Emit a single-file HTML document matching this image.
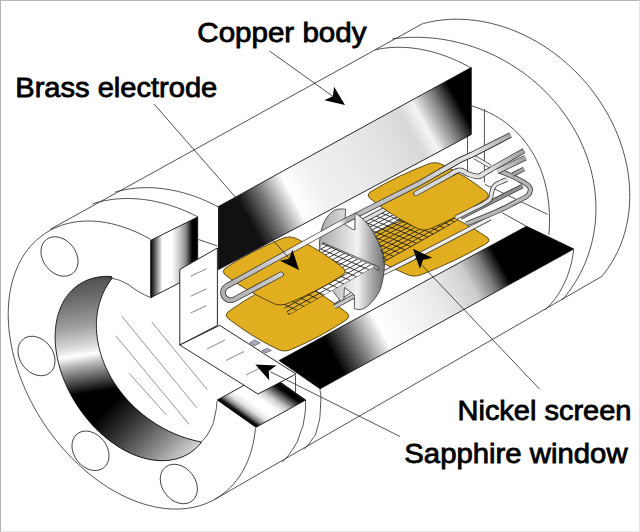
<!DOCTYPE html>
<html><head><meta charset="utf-8"><title>Cell diagram</title>
<style>html,body{margin:0;padding:0;background:#fff}body{width:640px;height:532px;overflow:hidden;position:relative}
#frame{position:absolute;left:0;top:0;width:638px;height:530px;border-top:1px solid #b4b4b4;border-left:1px solid #b4b4b4;border-right:1px solid #e6e6e6;border-bottom:1px solid #e6e6e6}
svg{position:absolute;left:0;top:0;display:block}</style></head><body>
<svg width="640" height="532" viewBox="0 0 640 532"><defs>
<linearGradient id="gUp" gradientUnits="userSpaceOnUse" x1="218.5" y1="238" x2="471.25" y2="99">
 <stop offset="0" stop-color="#111"/><stop offset="0.125" stop-color="#111"/><stop offset="0.205" stop-color="#777"/><stop offset="0.295" stop-color="#fff"/><stop offset="0.4" stop-color="#f0f0f0"/>
 <stop offset="0.55" stop-color="#e9e9e9"/><stop offset="0.68" stop-color="#e0e0e0"/><stop offset="0.76" stop-color="#d8d8d8"/><stop offset="0.815" stop-color="#f4f4f4"/><stop offset="0.89" stop-color="#808080"/><stop offset="0.955" stop-color="#000"/><stop offset="1" stop-color="#000"/>
</linearGradient>
<linearGradient id="gLow" gradientUnits="userSpaceOnUse" x1="279.2" y1="360.5" x2="553.1" y2="211.4">
 <stop offset="0" stop-color="#000"/><stop offset="0.16" stop-color="#000"/><stop offset="0.245" stop-color="#777"/><stop offset="0.335" stop-color="#fff"/>
 <stop offset="0.42" stop-color="#f6f6f6"/><stop offset="0.52" stop-color="#ececec"/><stop offset="0.6" stop-color="#dedede"/><stop offset="0.657" stop-color="#cccccc"/><stop offset="0.715" stop-color="#808080"/><stop offset="0.772" stop-color="#000"/><stop offset="1" stop-color="#000"/>
</linearGradient>
<linearGradient id="gFl" gradientUnits="userSpaceOnUse" x1="150.7" y1="0" x2="197.7" y2="0">
 <stop offset="0" stop-color="#000"/><stop offset="0.05" stop-color="#333"/><stop offset="0.25" stop-color="#fff"/><stop offset="0.45" stop-color="#fff"/><stop offset="0.62" stop-color="#c8c8c8"/><stop offset="0.75" stop-color="#888"/><stop offset="0.88" stop-color="#000"/><stop offset="1" stop-color="#000"/>
</linearGradient>
<linearGradient id="gFl2" gradientUnits="userSpaceOnUse" x1="217.3" y1="400" x2="246.7" y2="358.4">
 <stop offset="0" stop-color="#000"/><stop offset="0.05" stop-color="#111"/><stop offset="0.12" stop-color="#888"/><stop offset="0.22" stop-color="#e0e0e0"/><stop offset="0.35" stop-color="#fff"/><stop offset="0.5" stop-color="#fff"/><stop offset="0.65" stop-color="#ccc"/><stop offset="0.78" stop-color="#666"/><stop offset="0.9" stop-color="#000"/><stop offset="1" stop-color="#000"/>
</linearGradient>
<linearGradient id="gBore" gradientUnits="userSpaceOnUse" x1="90" y1="270" x2="120" y2="460">
 <stop offset="0" stop-color="#2a2a2a"/><stop offset="0.06" stop-color="#555"/><stop offset="0.15" stop-color="#707070"/><stop offset="0.28" stop-color="#9e9e9e"/><stop offset="0.39" stop-color="#ddd"/><stop offset="0.432" stop-color="#fff"/><stop offset="0.49" stop-color="#aaa"/><stop offset="0.63" stop-color="#000"/><stop offset="1" stop-color="#000"/>
</linearGradient>
<linearGradient id="gBore2" gradientUnits="userSpaceOnUse" x1="100" y1="416.2" x2="167.2" y2="483.4">
 <stop offset="0" stop-color="#000"/><stop offset="0.36" stop-color="#444"/><stop offset="0.73" stop-color="#999"/><stop offset="0.92" stop-color="#ccc"/><stop offset="1" stop-color="#ddd"/>
</linearGradient>
<clipPath id="cBore2"><path d="M30,402.2 L220,372.2 L260,520 L30,520Z"/></clipPath>
</defs>
<path d="M150.83,239.52 L145.95,236.81 L141.04,234.31 L136.13,232.01 L131.20,229.92 L126.28,228.04 L121.36,226.39 L116.47,224.95 L111.60,223.73 L106.76,222.73 L101.96,221.96 L97.20,221.42 L92.51,221.10 L87.87,221.01 L83.31,221.15 L78.82,221.52 L74.42,222.11 L70.10,222.93 L65.89,223.97 L61.78,225.24 L57.78,226.72 L53.90,228.43 L50.14,230.35 L46.52,232.49 L43.02,234.83 L39.67,237.38 L36.47,240.13 L33.41,243.08 L30.51,246.22 L27.78,249.55 L25.20,253.06 L22.80,256.75 L20.57,260.61 L18.51,264.64 L16.64,268.82 L14.94,273.16 L13.43,277.64 L12.11,282.26 L10.98,287.01 L10.04,291.88 L9.30,296.87 L8.75,301.97 L8.39,307.17 L8.23,312.45 L8.26,317.82 L8.49,323.27 L8.91,328.78 L9.53,334.35 L10.35,339.97 L11.35,345.63 L12.55,351.32 L13.94,357.03 L15.51,362.75 L17.26,368.47 L19.20,374.19 L21.32,379.90 L23.61,385.58 L26.07,391.23 L28.70,396.84 L31.50,402.40 L34.45,407.90 L37.56,413.33 L40.82,418.69 L44.22,423.96 L47.76,429.14 L51.43,434.22 L55.23,439.18 L59.15,444.03 L63.19,448.76 L67.34,453.35 L71.59,457.80 L75.93,462.11 L80.36,466.26 L84.88,470.26 L89.47,474.08 L94.12,477.74 L98.84,481.22 L103.61,484.51 L108.43,487.61 L113.28,490.52 L118.16,493.24 L123.06,495.75 L127.98,498.05 L132.91,500.14 L137.83,502.02 L142.74,503.69 L147.64,505.13 L152.51,506.35 L157.35,507.35 L162.15,508.12 L166.91,508.67 L171.61,508.99 L176.24,509.09 L180.81,508.95 L185.30,508.59 L189.70,508.00 L194.02,507.19 L198.23,506.15 L202.34,504.89 L206.34,503.41 L210.23,501.70 L213.99,499.79 L217.62,497.66 L221.11,495.32 L224.47,492.77 L227.67,490.02 L230.73,487.08 L233.63,483.94 L236.37,480.61 L238.95,477.10 L241.36,473.42 L243.59,469.56 L245.65,465.54 L247.53,461.36 L249.23,457.03 L250.74,452.55 L252.06,447.93 L253.20,443.18 L254.14,438.31 L254.89,433.32 L255.45,428.23" stroke="#262626" stroke-width="0.8" fill="none"/>
<path d="M50.28,229.34 L423.75,23.00" stroke="#262626" stroke-width="0.8" fill="none"/>
<path d="M215.19,499.11 L600.80,277.00" stroke="#262626" stroke-width="0.8" fill="none"/>
<path d="M92.43,203.86 L94.80,203.12 L97.20,202.44 L99.63,201.81 L102.07,201.23 L104.54,200.71 L107.03,200.25 L109.55,199.83 L112.08,199.48 L114.63,199.18 L117.20,198.93 L119.78,198.74 L122.38,198.60 L125.00,198.52 L127.63,198.49 L130.27,198.52 L132.93,198.61 L135.59,198.75 L138.27,198.94 L140.96,199.19 L143.65,199.50 L146.35,199.86 L149.06,200.27 L151.77,200.74 L154.49,201.27 L157.21,201.85 L159.93,202.48 L162.66,203.17 L165.38,203.91 L168.11,204.70 L170.83,205.55 L173.55,206.45 L176.26,207.40 L178.98,208.40 L181.68,209.46 L184.38,210.56 L187.07,211.72 L189.75,212.93 L192.43,214.19 L195.09,215.49 L197.74,216.85" stroke="#262626" stroke-width="0.8" fill="none"/>
<path d="M305.60,400.00 C305.20,405.83 306.27,406.25 304.40,417.50 C302.53,428.75 303.63,423.58 300.00,433.75 C296.37,443.92 299.33,438.58 293.50,448.00 C287.67,457.42 286.17,457.33 282.50,462.00" stroke="#262626" stroke-width="0.8" fill="none"/>
<path d="M115.05,192.10 L117.38,191.44 L119.73,190.83 L122.11,190.28 L124.50,189.78 L126.92,189.33 L129.37,188.93 L131.83,188.59 L134.31,188.30 L136.81,188.06 L139.32,187.88 L141.85,187.75 L144.40,187.67 L146.96,187.65 L149.54,187.68 L152.13,187.76 L154.73,187.90 L157.34,188.09 L159.96,188.34 L162.59,188.64 L165.23,188.99 L167.88,189.39 L170.53,189.85 L173.18,190.36 L175.85,190.93 L178.51,191.54 L181.18,192.21 L183.85,192.93 L186.51,193.70 L189.18,194.52 L191.85,195.40 L194.51,196.32 L197.17,197.30 L199.83,198.32 L202.48,199.40 L205.13,200.52 L207.77,201.70 L210.40,202.92 L213.02,204.19 L215.63,205.51 L218.23,206.87" stroke="#262626" stroke-width="0.8" fill="none"/>
<path d="M320.00,388.50 C320.20,394.00 321.43,392.00 320.60,405.00 C319.77,418.00 320.70,415.50 317.50,427.50 C314.30,439.50 315.50,433.70 311.00,441.00 C306.50,448.30 306.33,446.60 304.00,449.40" stroke="#262626" stroke-width="0.8" fill="none"/>
<path d="M374.95,49.90 L377.14,49.42 L379.34,49.00 L381.57,48.61 L383.81,48.28 L386.07,47.99 L388.35,47.76 L390.65,47.57 L392.97,47.42 L395.30,47.33 L397.64,47.29 L400.00,47.29 L402.37,47.34 L404.76,47.44 L407.15,47.59 L409.56,47.78 L411.98,48.03 L414.41,48.32 L416.84,48.66 L419.29,49.05 L421.74,49.48 L424.19,49.97 L426.65,50.50 L429.12,51.08 L431.59,51.70 L434.06,52.37 L436.54,53.09 L439.01,53.85 L441.49,54.66 L443.96,55.52 L446.44,56.42 L448.91,57.37 L451.37,58.36 L453.84,59.40 L456.30,60.48 L458.75,61.60 L461.20,62.77 L463.64,63.98 L466.07,65.23 L468.49,66.53 L470.91,67.87" stroke="#262626" stroke-width="0.8" fill="none"/>
<path d="M573.67,249.83 L573.36,252.26 L573.00,254.66 L572.59,257.04 L572.13,259.40 L571.63,261.73 L571.08,264.04 L570.49,266.32 L569.85,268.58 L569.17,270.81 L568.44,273.01 L567.67,275.19 L566.85,277.33 L565.99,279.45 L565.08,281.53 L564.14,283.58 L563.14,285.60 L562.11,287.59 L561.03,289.54 L559.91,291.46 L558.75,293.34 L557.54,295.19 L556.30,297.00 L555.02,298.78 L553.69,300.51 L552.33,302.21 L550.92,303.87 L549.48,305.49 L548.00,307.07 L546.48,308.61 L544.93,310.11" stroke="#262626" stroke-width="0.8" fill="none"/>
<path d="M392.23,38.93 L396.18,38.42 L400.16,38.00 L404.15,37.68 L408.16,37.45 L412.19,37.32 L416.22,37.29 L420.27,37.34 L424.32,37.50 L428.38,37.74 L432.43,38.09 L436.49,38.52 L440.54,39.05 L444.59,39.68 L448.63,40.40 L452.66,41.21 L456.68,42.11 L460.68,43.11 L464.66,44.19 L468.62,45.37 L472.56,46.64 L476.48,48.00 L480.36,49.44 L484.22,50.98 L488.05,52.60 L491.84,54.30 L495.59,56.09 L499.31,57.97 L502.98,59.92 L506.61,61.96 L510.19,64.08 L513.73,66.27 L517.22,68.55 L520.65,70.90 L524.03,73.32 L527.35,75.82 L530.62,78.38 L533.82,81.02 L536.97,83.73 L540.04,86.50 L543.06,89.34 L546.00,92.25 L548.88,95.21 L551.68,98.23 L554.41,101.31 L557.07,104.45 L559.65,107.64 L562.15,110.89 L564.57,114.18 L566.91,117.53 L569.17,120.91 L571.34,124.35 L573.43,127.82 L575.44,131.34 L577.35,134.89 L579.18,138.48 L580.92,142.10 L582.57,145.76 L584.12,149.44 L585.58,153.15 L586.95,156.89 L588.23,160.64 L589.41,164.42 L590.49,168.22 L591.48,172.03 L592.36,175.85 L593.16,179.68 L593.85,183.53 L594.44,187.38 L594.94,191.23 L595.34,195.09 L595.63,198.94 L595.83,202.79 L595.93,206.64 L595.92,210.47 L595.82,214.30 L595.62,218.12 L595.32,221.92 L594.91,225.70 L594.41,229.46 L593.81,233.21 L593.11,236.93 L592.32,240.62 L591.42,244.28 L590.43,247.92 L589.34,251.52 L588.15,255.08 L586.87,258.61 L585.50,262.10 L584.03,265.55 L582.47,268.95 L580.82,272.31 L579.08,275.62 L577.24,278.88 L575.32,282.09 L573.31,285.25 L571.22,288.35 L569.04,291.39 L566.77,294.37 L564.43,297.30 L562.00,300.16" stroke="#262626" stroke-width="0.8" fill="none"/>
<path d="M423.90,23.37 L427.43,22.50 L430.99,21.73 L434.58,21.07 L438.21,20.50 L441.88,20.04 L445.57,19.68 L449.29,19.42 L453.03,19.27 L456.79,19.22 L460.57,19.27 L464.37,19.42 L468.19,19.68 L472.01,20.04 L475.84,20.50 L479.68,21.07 L483.52,21.73 L487.36,22.50 L491.20,23.37 L495.03,24.34 L498.86,25.41 L502.67,26.58 L506.47,27.85 L510.26,29.21 L514.03,30.67 L517.77,32.22 L521.50,33.87 L525.20,35.61 L528.87,37.45 L532.50,39.37 L536.11,41.38 L539.68,43.48 L543.20,45.67 L546.69,47.94 L550.14,50.30 L553.54,52.73 L556.89,55.25 L560.19,57.84 L563.43,60.52 L566.63,63.26 L569.76,66.08 L572.84,68.97 L575.85,71.92 L578.80,74.95 L581.68,78.04 L584.50,81.19 L587.24,84.40 L589.92,87.67 L592.52,90.99 L595.05,94.37 L597.49,97.80 L599.86,101.27 L602.15,104.80 L604.36,108.36 L606.49,111.97 L608.52,115.62 L610.48,119.30 L612.34,123.02 L614.12,126.77 L615.80,130.55 L617.40,134.35 L618.90,138.18 L620.31,142.02 L621.62,145.89 L622.84,149.77 L623.96,153.66 L624.98,157.56 L625.91,161.47 L626.74,165.38 L627.47,169.30 L628.10,173.22 L628.62,177.13 L629.05,181.03 L629.38,184.93 L629.61,188.81 L629.74,192.68 L629.76,196.53 L629.68,200.36 L629.51,204.17 L629.23,207.96 L628.85,211.72 L628.37,215.44 L627.79,219.13 L627.11,222.79 L626.33,226.41 L625.46,229.99 L624.48,233.53 L623.41,237.02 L622.24,240.46 L620.97,243.85 L619.61,247.19 L618.16,250.48 L616.61,253.71 L614.97,256.87 L613.24,259.98 L611.42,263.02 L609.51,266.00 L607.51,268.91 L605.43,271.74 L603.27,274.51 L601.02,277.20" stroke="#262626" stroke-width="0.8" fill="none"/>
<path d="M470.78,105.67 L473.89,106.60 L476.96,107.60 L479.98,108.69 L482.96,109.86 L485.88,111.11 L488.76,112.44 L491.58,113.85 L494.34,115.34 L497.05,116.90 L499.71,118.54 L502.31,120.26 L504.85,122.05 L507.32,123.92 L509.74,125.86 L512.10,127.88 L514.39,129.96 L516.62,132.12 L518.78,134.34 L520.87,136.64 L522.90,139.00 L524.86,141.43 L526.75,143.92 L528.57,146.48 L530.32,149.10 L532.00,151.78 L533.60,154.53 L535.13,157.33 L536.59,160.19 L537.97,163.11 L539.28,166.08 L540.51,169.11 L541.66,172.18 L542.74,175.31 L543.74,178.49 L544.66,181.72 L545.50,185.00 L546.26,188.32 L546.94,191.68 L547.55,195.08 L548.07,198.53 L548.52,202.01 L548.88,205.53 L549.16,209.09 L549.36,212.68 L549.48,216.30 L549.52,219.95 L549.48,223.63 L549.36,227.34 L549.16,231.08 L548.88,234.83" stroke="#262626" stroke-width="0.8" fill="none"/>
<path d="M111.49,276.47 L108.59,276.35 L105.73,276.36 L102.91,276.50 L100.14,276.78 L97.41,277.20 L94.75,277.74 L92.14,278.43 L89.60,279.24 L87.12,280.19 L84.71,281.26 L82.37,282.46 L80.11,283.79 L77.93,285.25 L75.84,286.82 L73.83,288.52 L71.91,290.33 L70.09,292.26 L68.35,294.30 L66.72,296.45 L65.18,298.70 L63.75,301.06 L62.42,303.52 L61.20,306.07 L60.09,308.71 L59.08,311.44 L58.19,314.26 L57.41,317.15 L56.74,320.12 L56.19,323.16 L55.75,326.27 L55.43,329.44 L55.22,332.67 L55.13,335.95 L55.16,339.27 L55.31,342.64 L55.57,346.05 L55.95,349.49 L56.44,352.96 L57.05,356.45 L57.77,359.96 L58.61,363.49 L59.56,367.01 L60.61,370.55 L61.78,374.07 L63.05,377.60 L64.43,381.10 L65.92,384.59 L67.50,388.06 L69.18,391.49 L70.96,394.89 L72.83,398.26 L74.79,401.58 L76.85,404.85 L78.98,408.07 L81.20,411.23 L83.50,414.32 L85.87,417.35 L88.31,420.31 L90.82,423.19 L93.40,426.00 L96.03,428.71 L98.73,431.34 L101.47,433.88 L104.27,436.32 L107.11,438.66 L109.99,440.90 L112.91,443.03 L115.86,445.05 L118.83,446.96 L121.83,448.76 L124.85,450.44 L127.88,451.99 L130.93,453.43 L133.98,454.74 L137.03,455.92 L140.07,456.97 L143.11,457.90 L146.14,458.69 L149.15,459.35 L152.14,459.88 L155.10,460.27 L158.04,460.53 L160.93,460.66 L163.79,460.64 L166.61,460.50 L169.38,460.21 L172.10,459.80 L174.77,459.25 L177.38,458.56 L179.92,457.75 L182.40,456.80 L184.81,455.72 L187.14,454.52 L189.40,453.19 L191.58,451.73 L193.67,450.15 L195.68,448.46 L197.60,446.64 L199.42,444.71 L201.15,442.67 L200.99,441.88 L198.23,441.33 L195.47,440.72 L192.71,440.03 L189.96,439.28 L187.21,438.46 L184.47,437.58 L181.75,436.63 L179.03,435.61 L176.33,434.53 L173.65,433.39 L170.98,432.18 L168.33,430.91 L165.71,429.58 L163.11,428.19 L160.54,426.74 L157.99,425.23 L155.48,423.67 L152.99,422.05 L150.54,420.37 L148.12,418.64 L145.75,416.86 L143.40,415.03 L141.10,413.15 L138.85,411.22 L136.63,409.24 L134.46,407.22 L132.34,405.15 L130.26,403.05 L128.24,400.90 L126.26,398.71 L124.34,396.48 L122.47,394.22 L120.66,391.92 L118.91,389.59 L117.21,387.23 L115.57,384.84 L113.99,382.42 L112.48,379.98 L111.02,377.51 L109.63,375.02 L108.31,372.51 L107.05,369.98 L105.86,367.43 L104.73,364.87 L103.68,362.29 L102.69,359.70 L101.77,357.11 L100.92,354.50 L100.14,351.89 L99.44,349.28 L98.81,346.66 L98.25,344.05 L97.76,341.43 L97.34,338.82 L97.00,336.22 L96.74,333.62 L96.54,331.04 L96.42,328.46 L96.38,325.90 L96.41,323.35 L96.51,320.82 L96.69,318.30 L96.95,315.81 L97.27,313.34 L97.67,310.90 L98.15,308.48 L98.69,306.09 L99.31,303.72 L100.00,301.39 L100.77,299.09 L101.60,296.83 L102.51,294.60 L103.48,292.41 L104.53,290.26 L105.64,288.15 L106.82,286.08 L108.06,284.05 L109.38,282.08 L110.75,280.14 L112.20,278.26 Z" fill="url(#gBore)" stroke="none"/>
<path d="M111.49,276.47 L108.59,276.35 L105.73,276.36 L102.91,276.50 L100.14,276.78 L97.41,277.20 L94.75,277.74 L92.14,278.43 L89.60,279.24 L87.12,280.19 L84.71,281.26 L82.37,282.46 L80.11,283.79 L77.93,285.25 L75.84,286.82 L73.83,288.52 L71.91,290.33 L70.09,292.26 L68.35,294.30 L66.72,296.45 L65.18,298.70 L63.75,301.06 L62.42,303.52 L61.20,306.07 L60.09,308.71 L59.08,311.44 L58.19,314.26 L57.41,317.15 L56.74,320.12 L56.19,323.16 L55.75,326.27 L55.43,329.44 L55.22,332.67 L55.13,335.95 L55.16,339.27 L55.31,342.64 L55.57,346.05 L55.95,349.49 L56.44,352.96 L57.05,356.45 L57.77,359.96 L58.61,363.49 L59.56,367.01 L60.61,370.55 L61.78,374.07 L63.05,377.60 L64.43,381.10 L65.92,384.59 L67.50,388.06 L69.18,391.49 L70.96,394.89 L72.83,398.26 L74.79,401.58 L76.85,404.85 L78.98,408.07 L81.20,411.23 L83.50,414.32 L85.87,417.35 L88.31,420.31 L90.82,423.19 L93.40,426.00 L96.03,428.71 L98.73,431.34 L101.47,433.88 L104.27,436.32 L107.11,438.66 L109.99,440.90 L112.91,443.03 L115.86,445.05 L118.83,446.96 L121.83,448.76 L124.85,450.44 L127.88,451.99 L130.93,453.43 L133.98,454.74 L137.03,455.92 L140.07,456.97 L143.11,457.90 L146.14,458.69 L149.15,459.35 L152.14,459.88 L155.10,460.27 L158.04,460.53 L160.93,460.66 L163.79,460.64 L166.61,460.50 L169.38,460.21 L172.10,459.80 L174.77,459.25 L177.38,458.56 L179.92,457.75 L182.40,456.80 L184.81,455.72 L187.14,454.52 L189.40,453.19 L191.58,451.73 L193.67,450.15 L195.68,448.46 L197.60,446.64 L199.42,444.71 L201.15,442.67 L200.99,441.88 L198.23,441.33 L195.47,440.72 L192.71,440.03 L189.96,439.28 L187.21,438.46 L184.47,437.58 L181.75,436.63 L179.03,435.61 L176.33,434.53 L173.65,433.39 L170.98,432.18 L168.33,430.91 L165.71,429.58 L163.11,428.19 L160.54,426.74 L157.99,425.23 L155.48,423.67 L152.99,422.05 L150.54,420.37 L148.12,418.64 L145.75,416.86 L143.40,415.03 L141.10,413.15 L138.85,411.22 L136.63,409.24 L134.46,407.22 L132.34,405.15 L130.26,403.05 L128.24,400.90 L126.26,398.71 L124.34,396.48 L122.47,394.22 L120.66,391.92 L118.91,389.59 L117.21,387.23 L115.57,384.84 L113.99,382.42 L112.48,379.98 L111.02,377.51 L109.63,375.02 L108.31,372.51 L107.05,369.98 L105.86,367.43 L104.73,364.87 L103.68,362.29 L102.69,359.70 L101.77,357.11 L100.92,354.50 L100.14,351.89 L99.44,349.28 L98.81,346.66 L98.25,344.05 L97.76,341.43 L97.34,338.82 L97.00,336.22 L96.74,333.62 L96.54,331.04 L96.42,328.46 L96.38,325.90 L96.41,323.35 L96.51,320.82 L96.69,318.30 L96.95,315.81 L97.27,313.34 L97.67,310.90 L98.15,308.48 L98.69,306.09 L99.31,303.72 L100.00,301.39 L100.77,299.09 L101.60,296.83 L102.51,294.60 L103.48,292.41 L104.53,290.26 L105.64,288.15 L106.82,286.08 L108.06,284.05 L109.38,282.08 L110.75,280.14 L112.20,278.26 Z" fill="url(#gBore2)" stroke="none" clip-path="url(#cBore2)"/>
<path d="M111.49,276.47 L108.59,276.35 L105.73,276.36 L102.91,276.50 L100.14,276.78 L97.41,277.20 L94.75,277.74 L92.14,278.43 L89.60,279.24 L87.12,280.19 L84.71,281.26 L82.37,282.46 L80.11,283.79 L77.93,285.25 L75.84,286.82 L73.83,288.52 L71.91,290.33 L70.09,292.26 L68.35,294.30 L66.72,296.45 L65.18,298.70 L63.75,301.06 L62.42,303.52 L61.20,306.07 L60.09,308.71 L59.08,311.44 L58.19,314.26 L57.41,317.15 L56.74,320.12 L56.19,323.16 L55.75,326.27 L55.43,329.44 L55.22,332.67 L55.13,335.95 L55.16,339.27 L55.31,342.64 L55.57,346.05 L55.95,349.49 L56.44,352.96 L57.05,356.45 L57.77,359.96 L58.61,363.49 L59.56,367.01 L60.61,370.55 L61.78,374.07 L63.05,377.60 L64.43,381.10 L65.92,384.59 L67.50,388.06 L69.18,391.49 L70.96,394.89 L72.83,398.26 L74.79,401.58 L76.85,404.85 L78.98,408.07 L81.20,411.23 L83.50,414.32 L85.87,417.35 L88.31,420.31 L90.82,423.19 L93.40,426.00 L96.03,428.71 L98.73,431.34 L101.47,433.88 L104.27,436.32 L107.11,438.66 L109.99,440.90 L112.91,443.03 L115.86,445.05 L118.83,446.96 L121.83,448.76 L124.85,450.44 L127.88,451.99 L130.93,453.43 L133.98,454.74 L137.03,455.92 L140.07,456.97 L143.11,457.90 L146.14,458.69 L149.15,459.35 L152.14,459.88 L155.10,460.27 L158.04,460.53 L160.93,460.66 L163.79,460.64 L166.61,460.50 L169.38,460.21 L172.10,459.80 L174.77,459.25 L177.38,458.56 L179.92,457.75 L182.40,456.80 L184.81,455.72 L187.14,454.52 L189.40,453.19 L191.58,451.73 L193.67,450.15 L195.68,448.46 L197.60,446.64 L199.42,444.71 L201.15,442.67 L200.99,441.88 L198.23,441.33 L195.47,440.72 L192.71,440.03 L189.96,439.28 L187.21,438.46 L184.47,437.58 L181.75,436.63 L179.03,435.61 L176.33,434.53 L173.65,433.39 L170.98,432.18 L168.33,430.91 L165.71,429.58 L163.11,428.19 L160.54,426.74 L157.99,425.23 L155.48,423.67 L152.99,422.05 L150.54,420.37 L148.12,418.64 L145.75,416.86 L143.40,415.03 L141.10,413.15 L138.85,411.22 L136.63,409.24 L134.46,407.22 L132.34,405.15 L130.26,403.05 L128.24,400.90 L126.26,398.71 L124.34,396.48 L122.47,394.22 L120.66,391.92 L118.91,389.59 L117.21,387.23 L115.57,384.84 L113.99,382.42 L112.48,379.98 L111.02,377.51 L109.63,375.02 L108.31,372.51 L107.05,369.98 L105.86,367.43 L104.73,364.87 L103.68,362.29 L102.69,359.70 L101.77,357.11 L100.92,354.50 L100.14,351.89 L99.44,349.28 L98.81,346.66 L98.25,344.05 L97.76,341.43 L97.34,338.82 L97.00,336.22 L96.74,333.62 L96.54,331.04 L96.42,328.46 L96.38,325.90 L96.41,323.35 L96.51,320.82 L96.69,318.30 L96.95,315.81 L97.27,313.34 L97.67,310.90 L98.15,308.48 L98.69,306.09 L99.31,303.72 L100.00,301.39 L100.77,299.09 L101.60,296.83 L102.51,294.60 L103.48,292.41 L104.53,290.26 L105.64,288.15 L106.82,286.08 L108.06,284.05 L109.38,282.08 L110.75,280.14 L112.20,278.26 Z" fill="none" stroke="#111" stroke-width="0.9"/>
<path d="M106.00,276.60 C108.00,277.17 105.80,276.30 112.00,278.30 C118.20,280.30 116.03,278.37 124.60,282.60 C133.17,286.83 129.00,285.97 137.70,291.00 C146.40,296.03 146.37,295.47 150.70,297.70" stroke="#262626" stroke-width="0.8" fill="none"/>
<ellipse cx="59.5" cy="256.5" rx="21.5" ry="16.5" transform="rotate(52 59.5 256.5)" stroke="#262626" stroke-width="0.8" fill="none"/>
<ellipse cx="36.5" cy="356.0" rx="21.5" ry="16.5" transform="rotate(52 36.5 356.0)" stroke="#262626" stroke-width="0.8" fill="none"/>
<ellipse cx="90.5" cy="450.8" rx="21.5" ry="16.5" transform="rotate(52 90.5 450.8)" stroke="#262626" stroke-width="0.8" fill="none"/>
<ellipse cx="178.8" cy="484.0" rx="21.5" ry="16.5" transform="rotate(52 178.8 484.0)" stroke="#262626" stroke-width="0.8" fill="none"/>
<path d="M150.70,240.40 L197.70,217.00 L197.70,273.50 L150.70,297.70Z" fill="url(#gFl)" stroke="#111" stroke-width="0.9"/>
<path d="M217.30,400.00 L255.90,427.30 L305.60,400.00 L267.00,372.70Z" fill="url(#gFl2)" stroke="#111" stroke-width="0.9"/>
<path d="M217.00,401.00 C216.33,405.67 217.33,405.33 215.00,415.00 C212.67,424.67 214.67,420.83 210.00,430.00 C205.33,439.17 204.00,438.33 201.00,442.50" stroke="#262626" stroke-width="0.8" fill="none"/>
<path d="M218.50,206.50 L471.25,67.50 L471.25,134.50 L218.50,269.50Z" fill="url(#gUp)" stroke="#111" stroke-width="0.9"/>
<path d="M467.50,135.00 L467.50,172.50" stroke="#262626" stroke-width="0.8" fill="none"/>
<path d="M484.40,109.00 L484.40,182.50" stroke="#262626" stroke-width="0.8" fill="none"/>
<path d="M485.00,184.50 L547.50,214.30" stroke="#262626" stroke-width="0.8" fill="none"/>
<path d="M502.00,212.70 L526.50,226.30" stroke="#262626" stroke-width="0.8" fill="none"/>
<path d="M475.00,157.50 L490.80,165.70" stroke="#262626" stroke-width="0.8" fill="none"/>
<path d="M198.60,239.50 L217.40,246.00" stroke="#262626" stroke-width="0.8" fill="none"/>
<path d="M179.80,269.50 L217.40,248.00 L217.40,325.40 L179.80,345.00Z" fill="#fff" stroke="#111" stroke-width="0.9"/>
<path d="M179.80,345.00 L219.70,325.40 L296.00,374.00 L258.00,394.00Z" fill="#fff" stroke="#111" stroke-width="0.9"/>
<path d="M190.60,276.25 L206.60,268.75" stroke="#555" stroke-width="0.7" fill="none"/>
<path d="M190.60,296.25 L206.60,288.75" stroke="#555" stroke-width="0.7" fill="none"/>
<path d="M190.60,313.00 L206.60,305.50" stroke="#555" stroke-width="0.7" fill="none"/>
<path d="M207.00,349.00 L225.00,340.00" stroke="#555" stroke-width="0.7" fill="none"/>
<path d="M226.00,360.50 L244.00,351.50" stroke="#555" stroke-width="0.7" fill="none"/>
<path d="M246.00,375.00 L264.00,366.00" stroke="#555" stroke-width="0.7" fill="none"/>
<path d="M121.60,316.00 L196.80,407.80" stroke="#666" stroke-width="0.7" fill="none"/>
<path d="M151.70,322.00 L207.30,389.80" stroke="#666" stroke-width="0.7" fill="none"/>
<path d="M115.60,335.60 L189.20,424.40" stroke="#666" stroke-width="0.7" fill="none"/>
<path d="M129.00,373.20 L166.70,415.30" stroke="#666" stroke-width="0.7" fill="none"/>
<path d="M360.80,249.74 Q352.00,245.00 361.02,240.68 Q389.06,224.58 422.38,211.32 Q431.40,207.00 440.21,211.73 Q465.11,222.35 484.59,235.57 Q493.40,240.30 484.38,244.63 Q456.34,260.77 423.02,274.07 Q414.00,278.40 405.20,273.66 Q380.29,263.00 360.80,249.74 Z" fill="#E0AE1F" stroke="#3a2c00" stroke-width="0.8"/>
<path d="M334.00,306.50 L383.00,273.20 L409.50,260.00 L490.00,218.30" fill="none" stroke="#333" stroke-width="4.80" stroke-linecap="butt" stroke-linejoin="round"/>
<path d="M334.00,306.50 L383.00,273.20 L409.50,260.00 L490.00,218.30" fill="none" stroke="#f0f0f0" stroke-width="3.30" stroke-linecap="butt" stroke-linejoin="round"/>
<linearGradient id="gD" gradientUnits="userSpaceOnUse" x1="319" y1="0" x2="385" y2="0"><stop offset="0" stop-color="#a8a8a8"/><stop offset="0.35" stop-color="#d4d4d4"/><stop offset="0.58" stop-color="#f2f2f2"/><stop offset="0.8" stop-color="#a8a8a8"/><stop offset="1" stop-color="#707070"/></linearGradient>
<path d="M345.6,209.4 C343,208.6 338,208.8 335,210 C331,212 325,218 322.5,226.25 C320,235 319,243 319.4,248.75 C320,262 324,278 332.5,290.6 L340.6,301.25 L343.75,301.25 L344.4,287.5 L354.4,295 L354.4,308.75 C358,310 362.5,309.4 364,308.6 C370,305 375,299 378.75,292.5 C381,288 383,282 384.4,267.5 C384.6,262 384,257 382.5,252 C381,247 379,243 376,237 C373,231 369,225 363.75,220 C361,217 358,215 355,213 L355,229.4 L352.5,229.4 L345,224.4 Z" fill="url(#gD)" stroke="#333" stroke-width="0.8"/>
<path d="M288.50,315.21 L374.00,267.25 L378.50,268.50 L322.50,242.50 L319.50,252.00 L300.00,263.00 L279.00,298.00Z" fill="#fff" stroke="none"/>
<path d="M230.50,320.28 Q222.00,315.00 230.67,310.02 Q253.41,293.90 281.23,280.98 Q289.90,276.00 298.32,281.40 Q324.07,294.79 344.58,311.10 Q353.00,316.50 344.19,321.23 Q321.04,336.60 292.81,348.77 Q284.00,353.50 275.50,348.22 Q250.38,335.71 230.50,320.28 Z" fill="#E0AE1F" stroke="#3a2c00" stroke-width="0.8"/>
<path d="M249.50,342.90 L254.80,339.90 L260.00,342.90 L254.40,345.90Z" fill="#aab" stroke="#445" stroke-width="0.6"/>
<path d="M261.90,350.80 L266.80,348.20 L271.30,350.40 L266.00,352.90Z" fill="#aab" stroke="#445" stroke-width="0.6"/>
<path d="M295.50,375.50 L295.50,393.00" stroke="#262626" stroke-width="0.8" fill="none"/>
<path d="M280.60,383.75 L305.60,400.00" stroke="#262626" stroke-width="0.8" fill="none"/>
<clipPath id="cg"><path d="M288.50,315.21 L374.00,267.25 L378.50,268.50 L322.50,242.50 L319.50,252.00 L300.00,263.00 L279.00,298.00Z M378.50,268.50 L459.00,219.56 L403.00,201.44 L361.00,222.87 L363.75,220.00 L372.50,231.25 L378.75,243.75 L382.50,256.25 L383.75,266.00Z"/></clipPath>
<path d="M283.00,318.30 L460.00,219.00 M278.50,316.20 L455.69,217.31 M274.00,314.10 L451.38,215.62 M269.50,312.00 L447.08,213.92 M265.00,309.90 L442.77,212.23 M260.50,307.80 L438.46,210.54 M256.00,305.70 L434.15,208.85 M251.50,303.60 L429.85,207.15 M247.00,301.50 L425.54,205.46 M242.50,299.40 L421.23,203.77 M238.00,297.30 L416.92,202.08 M233.50,295.20 L412.62,200.38 M229.00,293.10 L408.31,198.69 M224.50,291.00 L404.00,197.00 M283.00,318.30 L224.50,291.00 M290.08,314.33 L231.68,287.24 M297.07,310.40 L238.77,283.53 M304.00,306.52 L245.79,279.85 M310.85,302.68 L252.74,276.21 M317.62,298.88 L259.61,272.61 M324.32,295.12 L266.41,269.05 M330.95,291.40 L273.13,265.53 M337.51,287.72 L279.78,262.05 M344.00,284.08 L286.36,258.61 M350.41,280.48 L292.87,255.20 M356.76,276.92 L299.30,251.83 M363.04,273.40 L305.67,248.49 M369.25,269.91 L311.97,245.19 M375.40,266.46 L318.20,241.93 M381.47,263.05 L324.36,238.70 M387.49,259.68 L330.46,235.51 M393.43,256.35 L336.49,232.35 M399.32,253.04 L342.46,229.23 M405.14,249.78 L348.36,226.14 M410.89,246.55 L354.20,223.08 M416.59,243.36 L359.97,220.06 M422.22,240.20 L365.69,217.06 M427.79,237.07 L371.34,214.11 M433.30,233.98 L376.93,211.18 M438.76,230.92 L382.46,208.28 M444.15,227.89 L387.92,205.42 M449.48,224.90 L393.34,202.58 M454.76,221.94 L398.69,199.78 M459.98,219.01 L403.98,197.01" clip-path="url(#cg)" stroke="#1c1c1c" stroke-width="0.85" fill="none"/>
<path d="M334.50,306.80 L354.00,296.20" fill="none" stroke="#333" stroke-width="4.60" stroke-linecap="butt" stroke-linejoin="round"/>
<path d="M334.50,306.80 L354.00,296.20" fill="none" stroke="#c6c6c6" stroke-width="3.10" stroke-linecap="butt" stroke-linejoin="round"/>
<path d="M322.50,242.50 L376.50,265.80" stroke="#333" stroke-width="0.8" fill="none"/>
<path d="M376.5,265.8 Q380.5,268 378,270.5 L374,267.2" stroke="#333" stroke-width="0.8" fill="none"/>
<path d="M279.20,360.50 L526.50,226.30 L573.75,249.00 L320.00,388.80Z" fill="url(#gLow)" stroke="#111" stroke-width="0.9"/>
<path d="M361.00,222.00 L405.00,198.50" fill="none" stroke="#333" stroke-width="5.00" stroke-linecap="butt" stroke-linejoin="round"/>
<path d="M361.00,222.00 L405.00,198.50" fill="none" stroke="#dcdcdc" stroke-width="3.50" stroke-linecap="butt" stroke-linejoin="round"/>
<path d="M372.26,200.14 Q363.80,194.80 372.82,190.48 Q397.26,175.96 426.78,164.62 Q435.80,160.30 444.30,165.58 Q466.98,176.65 484.30,190.42 Q492.80,195.70 483.97,200.39 Q460.69,215.69 432.33,227.81 Q423.50,232.50 415.04,227.16 Q390.97,215.00 372.26,200.14 Z" fill="#E0AE1F" stroke="#3a2c00" stroke-width="0.8"/>
<path d="M227.97,276.89 Q218.50,271.30 228.26,266.23 Q251.69,251.19 280.24,239.27 Q290.00,234.20 299.32,240.04 Q322.57,251.57 340.48,265.86 Q349.80,271.70 340.02,276.73 Q317.46,291.21 289.78,302.57 Q280.00,307.60 270.53,302.01 Q246.58,290.83 227.97,276.89 Z" fill="#E0AE1F" stroke="#3a2c00" stroke-width="0.8"/>
<linearGradient id="gW" gradientUnits="userSpaceOnUse" x1="440" y1="178" x2="525" y2="132"><stop offset="0" stop-color="#dcdcdc"/><stop offset="0.45" stop-color="#e4e4e4"/><stop offset="1" stop-color="#8e8e8e"/></linearGradient>
<linearGradient id="gH" gradientUnits="userSpaceOnUse" x1="220" y1="290" x2="460" y2="160"><stop offset="0" stop-color="#b0b0b0"/><stop offset="0.167" stop-color="#c4c4c4"/><stop offset="0.29" stop-color="#e0e0e0"/><stop offset="0.354" stop-color="#f8f8f8"/><stop offset="0.5" stop-color="#f8f8f8"/><stop offset="0.53" stop-color="#b0b0b0"/><stop offset="0.567" stop-color="#a8a8a8"/><stop offset="0.6" stop-color="#c0c0c0"/><stop offset="0.83" stop-color="#c4c4c4"/><stop offset="0.94" stop-color="#dcdcdc"/><stop offset="1" stop-color="#dcdcdc"/></linearGradient>
<path d="M475.00,157.50 L490.00,166.25" fill="none" stroke="#333" stroke-width="4.20" stroke-linecap="butt" stroke-linejoin="round"/>
<path d="M475.00,157.50 L490.00,166.25" fill="none" stroke="#eee" stroke-width="2.70" stroke-linecap="butt" stroke-linejoin="round"/>
<path d="M281.00,274.40 L234.15,299.38 L231.31,300.24 L228.35,299.95 L225.73,298.55 L223.85,296.25 L222.99,293.40 L223.28,290.44 L224.69,287.82 L226.99,285.94 L265.00,264.90 L295.00,248.40 L345.00,220.90 L420.00,183.00 L460.00,160.00 L472.50,154.40 L500.00,140.40" fill="none" stroke="#333" stroke-width="5.60" stroke-linecap="round" stroke-linejoin="round"/>
<path d="M281.00,274.40 L234.15,299.38 L231.31,300.24 L228.35,299.95 L225.73,298.55 L223.85,296.25 L222.99,293.40 L223.28,290.44 L224.69,287.82 L226.99,285.94 L265.00,264.90 L295.00,248.40 L345.00,220.90 L420.00,183.00 L460.00,160.00 L472.50,154.40 L500.00,140.40" fill="none" stroke="url(#gH)" stroke-width="4.10" stroke-linecap="round" stroke-linejoin="round"/>
<clipPath id="cB"><path d="M354.6,205 L372,205 L372,232 L354.6,232Z"/></clipPath>
<path d="M345.6,209.4 C343,208.6 338,208.8 335,210 C331,212 325,218 322.5,226.25 C320,235 319,243 319.4,248.75 C320,262 324,278 332.5,290.6 L340.6,301.25 L343.75,301.25 L344.4,287.5 L354.4,295 L354.4,308.75 C358,310 362.5,309.4 364,308.6 C370,305 375,299 378.75,292.5 C381,288 383,282 384.4,267.5 C384.6,262 384,257 382.5,252 C381,247 379,243 376,237 C373,231 369,225 363.75,220 C361,217 358,215 355,213 L355,229.4 L352.5,229.4 L345,224.4 Z" fill="url(#gD)" stroke="#333" stroke-width="0.8" clip-path="url(#cB)"/>
<path d="M440.00,171.50 L460.00,160.00 L472.50,154.40 L510.50,135.00" fill="none" stroke="#333" stroke-width="5.60" stroke-linecap="butt" stroke-linejoin="round"/>
<path d="M440.00,171.50 L460.00,160.00 L472.50,154.40 L510.50,135.00" fill="none" stroke="url(#gW)" stroke-width="4.10" stroke-linecap="butt" stroke-linejoin="round"/>
<path d="M466.30,224.00 C476.63,219.77 481.07,218.47 497.30,211.30 C513.53,204.13 506.57,206.73 515.00,202.50 C523.43,198.27 518.43,200.93 522.60,198.60 C526.77,196.27 525.03,197.87 527.50,195.50 C529.97,193.13 529.30,194.23 530.00,191.50 C530.70,188.77 531.10,189.97 529.60,187.30 C528.10,184.63 528.77,185.83 525.50,183.50 C522.23,181.17 525.47,183.27 519.80,180.30 C514.13,177.33 515.43,177.63 508.50,174.60 C501.57,171.57 502.17,172.33 499.00,171.20" fill="none" stroke="#333" stroke-width="5.00" stroke-linecap="butt" stroke-linejoin="round"/>
<path d="M466.30,224.00 C476.63,219.77 481.07,218.47 497.30,211.30 C513.53,204.13 506.57,206.73 515.00,202.50 C523.43,198.27 518.43,200.93 522.60,198.60 C526.77,196.27 525.03,197.87 527.50,195.50 C529.97,193.13 529.30,194.23 530.00,191.50 C530.70,188.77 531.10,189.97 529.60,187.30 C528.10,184.63 528.77,185.83 525.50,183.50 C522.23,181.17 525.47,183.27 519.80,180.30 C514.13,177.33 515.43,177.63 508.50,174.60 C501.57,171.57 502.17,172.33 499.00,171.20" fill="none" stroke="#b6b6b6" stroke-width="3.50" stroke-linecap="butt" stroke-linejoin="round"/>
<path d="M497.50,171.20 L525.40,157.70" fill="none" stroke="#333" stroke-width="5.60" stroke-linecap="butt" stroke-linejoin="round"/>
<path d="M497.50,171.20 L525.40,157.70" fill="none" stroke="url(#gW)" stroke-width="4.10" stroke-linecap="butt" stroke-linejoin="round"/>
<path d="M416.00,193.50 L420.00,191.25 L457.50,170.60" fill="none" stroke="#333" stroke-width="5.30" stroke-linecap="round" stroke-linejoin="round"/>
<path d="M416.00,193.50 L420.00,191.25 L457.50,170.60" fill="none" stroke="#d8d8d8" stroke-width="3.80" stroke-linecap="round" stroke-linejoin="round"/>
<path d="M450.00,174.70 C452.50,173.33 453.17,171.77 457.50,170.60 C461.83,169.43 459.67,170.15 463.00,171.20 C466.33,172.25 463.08,172.07 467.50,173.75 C471.92,175.43 471.75,175.67 476.25,176.25 C480.75,176.83 478.08,176.58 481.00,175.50 C483.92,174.42 477.67,177.33 485.00,173.00 C492.33,168.67 490.00,169.93 503.00,162.50 C516.00,155.07 517.00,154.63 524.00,150.70" fill="none" stroke="#333" stroke-width="5.40" stroke-linecap="butt" stroke-linejoin="round"/>
<path d="M450.00,174.70 C452.50,173.33 453.17,171.77 457.50,170.60 C461.83,169.43 459.67,170.15 463.00,171.20 C466.33,172.25 463.08,172.07 467.50,173.75 C471.92,175.43 471.75,175.67 476.25,176.25 C480.75,176.83 478.08,176.58 481.00,175.50 C483.92,174.42 477.67,177.33 485.00,173.00 C492.33,168.67 490.00,169.93 503.00,162.50 C516.00,155.07 517.00,154.63 524.00,150.70" fill="none" stroke="url(#gW)" stroke-width="3.90" stroke-linecap="butt" stroke-linejoin="round"/>
<path d="M524.00,169.00 L512.70,174.60" fill="none" stroke="#333" stroke-width="4.60" stroke-linecap="butt" stroke-linejoin="round"/>
<path d="M524.00,169.00 L512.70,174.60" fill="none" stroke="#a4a4a4" stroke-width="3.10" stroke-linecap="butt" stroke-linejoin="round"/>
<path d="M522.60,186.00 L460.60,217.50" fill="none" stroke="#333" stroke-width="4.60" stroke-linecap="butt" stroke-linejoin="round"/>
<path d="M522.60,186.00 L460.60,217.50" fill="none" stroke="#8e8e8e" stroke-width="3.10" stroke-linecap="butt" stroke-linejoin="round"/>
<path d="M507.00,179.50 C504.67,180.50 504.20,180.33 500.00,182.50 C495.80,184.67 497.20,182.50 494.40,186.00 C491.60,189.50 493.00,188.80 491.60,193.00 C490.20,197.20 492.73,195.10 490.20,198.60 C487.67,202.10 490.10,199.87 484.00,203.50 C477.90,207.13 481.23,204.83 471.90,209.50 C462.57,214.17 461.30,214.83 456.00,217.50" fill="none" stroke="#333" stroke-width="4.60" stroke-linecap="butt" stroke-linejoin="round"/>
<path d="M507.00,179.50 C504.67,180.50 504.20,180.33 500.00,182.50 C495.80,184.67 497.20,182.50 494.40,186.00 C491.60,189.50 493.00,188.80 491.60,193.00 C490.20,197.20 492.73,195.10 490.20,198.60 C487.67,202.10 490.10,199.87 484.00,203.50 C477.90,207.13 481.23,204.83 471.90,209.50 C462.57,214.17 461.30,214.83 456.00,217.50" fill="none" stroke="#e6e6e6" stroke-width="3.10" stroke-linecap="butt" stroke-linejoin="round"/>
<path d="M345.00,105.00 L324.37,100.21 L332.86,96.18 L334.07,86.86Z" fill="#000"/>
<path d="M299.00,270.00 L279.98,260.70 L289.16,258.68 L292.43,249.87Z" fill="#000"/>
<path d="M413.00,248.80 L432.18,257.77 L423.04,259.95 L419.92,268.81Z" fill="#000"/>
<path d="M255.30,364.40 L276.44,365.53 L268.78,370.98 L269.21,380.36Z" fill="#000"/>
<text x="15.3" y="96.7" textLength="202.0" lengthAdjust="spacingAndGlyphs" font-family="'Liberation Sans',sans-serif" font-size="27.2" fill="#000" stroke="#000" stroke-width="0.8">Brass electrode</text>
<text x="197.3" y="42.4" textLength="169.2" lengthAdjust="spacingAndGlyphs" font-family="'Liberation Sans',sans-serif" font-size="27.2" fill="#000" stroke="#000" stroke-width="0.8">Copper body</text>
<text x="457.5" y="420.2" textLength="174.0" lengthAdjust="spacingAndGlyphs" font-family="'Liberation Sans',sans-serif" font-size="27.2" fill="#000" stroke="#000" stroke-width="0.8">Nickel screen</text>
<text x="404.3" y="463.2" textLength="223.3" lengthAdjust="spacingAndGlyphs" font-family="'Liberation Sans',sans-serif" font-size="27.2" fill="#000" stroke="#000" stroke-width="0.8">Sapphire window</text>
<path d="M154.00,104.00 L293.00,263.00" stroke="#262626" stroke-width="0.8" fill="none"/>
<path d="M269.50,51.00 L338.00,100.00" stroke="#262626" stroke-width="0.8" fill="none"/>
<path d="M539.50,389.00 L415.00,258.00" stroke="#262626" stroke-width="0.8" fill="none"/>
<path d="M400.00,436.50 L270.60,371.90" stroke="#262626" stroke-width="0.8" fill="none"/>
</svg>
<div id="frame"></div>
</body></html>
